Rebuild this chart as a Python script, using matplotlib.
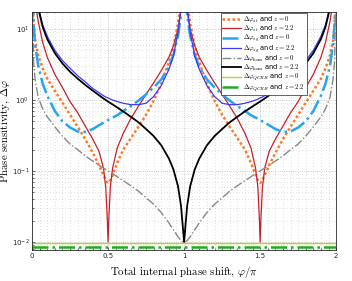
import matplotlib
matplotlib.use('Agg')
import matplotlib.pyplot as plt
import matplotlib.ticker as mticker
import numpy as np

plt.rcParams['mathtext.fontset'] = 'cm'

# phase grid (in units of pi)
phi = [0, 0.01, 0.02, 0.04, 0.07, 0.1, 0.15, 0.2, 0.25, 0.3, 0.35, 0.4, 0.44, 0.47, 0.485, 0.495,
       0.5, 0.505, 0.515, 0.53, 0.56, 0.6, 0.65, 0.7, 0.75, 0.8, 0.85, 0.9, 0.93, 0.96, 0.98, 0.99,
       1.0, 1.01, 1.02, 1.04, 1.07, 1.1, 1.15, 1.2, 1.25, 1.3, 1.35, 1.4, 1.44, 1.47, 1.485, 1.495,
       1.5, 1.505, 1.515, 1.53, 1.56, 1.6, 1.65, 1.7, 1.75, 1.8, 1.85, 1.9, 1.93, 1.96, 1.98, 1.99, 2.0]

st_z0 = [100, 12, 7, 4.3, 2.8, 2.0, 1.35, 0.92, 0.62, 0.42, 0.28, 0.18, 0.12, 0.088, 0.074, 0.069,
         0.068, 0.069, 0.074, 0.088, 0.13, 0.2, 0.29, 0.42, 0.62, 0.98, 1.7, 3.4, 5.6, 12, 25, 50,
         100, 50, 25, 12, 5.6, 3.4, 1.7, 0.98, 0.62, 0.42, 0.29, 0.2, 0.13, 0.088, 0.074, 0.069,
         0.068, 0.069, 0.074, 0.088, 0.12, 0.18, 0.28, 0.42, 0.62, 0.92, 1.35, 2.0, 2.8, 4.3, 7, 12, 100]

st_z22 = [100, 60, 25, 13, 6.5, 4.0, 2.3, 1.5, 0.95, 0.66, 0.43, 0.28, 0.19, 0.11, 0.058, 0.021,
          0.01, 0.021, 0.06, 0.11, 0.21, 0.34, 0.55, 0.82, 1.2, 1.75, 2.6, 4.0, 5.8, 10, 20, 40,
          100, 40, 20, 10, 5.8, 4.0, 2.6, 1.75, 1.2, 0.82, 0.55, 0.34, 0.21, 0.11, 0.06, 0.021,
          0.01, 0.021, 0.058, 0.11, 0.19, 0.28, 0.43, 0.66, 0.95, 1.5, 2.3, 4.0, 6.5, 13, 25, 60, 100]

sg_z0 = [100, 12, 6.2, 3.1, 1.7, 1.15, 0.70, 0.5, 0.41, 0.36, 0.355, 0.39, 0.44, 0.48, 0.5, 0.515,
         0.52, 0.53, 0.545, 0.565, 0.61, 0.7, 0.82, 0.98, 1.2, 1.5, 1.95, 2.9, 4.3, 8, 16, 32,
         100, 32, 16, 8, 4.3, 2.9, 1.95, 1.5, 1.2, 0.98, 0.82, 0.7, 0.61, 0.565, 0.545, 0.53,
         0.52, 0.515, 0.5, 0.48, 0.44, 0.39, 0.355, 0.36, 0.41, 0.5, 0.70, 1.15, 1.7, 3.1, 6.2, 12, 100]

sg_z22 = [100, 80, 40, 21, 11.5, 7.9, 5.0, 3.6, 2.8, 2.2, 1.8, 1.45, 1.27, 1.15, 1.1, 1.08,
          1.07, 1.06, 1.03, 1.0, 0.95, 0.9, 0.86, 0.86, 0.9, 1.12, 1.6, 2.7, 4.2, 9, 19, 40,
          100, 40, 19, 9, 4.2, 2.7, 1.6, 1.12, 0.9, 0.86, 0.86, 0.9, 0.95, 1.0, 1.03, 1.06,
          1.07, 1.08, 1.1, 1.15, 1.27, 1.45, 1.8, 2.2, 2.8, 3.6, 5.0, 7.9, 11.5, 21, 40, 80, 100]

hom_z0 = [100, 3.5, 2.0, 1.1, 0.75, 0.58, 0.42, 0.31, 0.24, 0.20, 0.163, 0.138, 0.121, 0.11, 0.105, 0.102,
          0.1, 0.099, 0.096, 0.092, 0.083, 0.073, 0.062, 0.052, 0.042, 0.034, 0.026, 0.0186, 0.0149, 0.0118, 0.0105, 0.0101,
          0.01, 0.0101, 0.0105, 0.0118, 0.0149, 0.0186, 0.026, 0.034, 0.042, 0.052, 0.062, 0.073, 0.083, 0.092, 0.096, 0.099,
          0.1, 0.102, 0.105, 0.11, 0.121, 0.138, 0.163, 0.20, 0.24, 0.31, 0.42, 0.58, 0.75, 1.1, 2.0, 3.5, 100]

hom_z22 = [100, 70, 42, 19.9, 10.7, 7.2, 4.57, 3.27, 2.5, 2.0, 1.63, 1.35, 1.17, 1.05, 1.0, 0.967,
           0.95, 0.935, 0.906, 0.865, 0.786, 0.69, 0.58, 0.485, 0.39, 0.31, 0.23, 0.15, 0.105, 0.061, 0.032, 0.018,
           0.01, 0.018, 0.032, 0.061, 0.105, 0.15, 0.23, 0.31, 0.39, 0.485, 0.58, 0.69, 0.786, 0.865, 0.906, 0.935,
           0.95, 0.967, 1.0, 1.05, 1.17, 1.35, 1.63, 2.0, 2.5, 3.27, 4.57, 7.2, 10.7, 19.9, 42, 70, 100]

qcrb_z0 = 0.0098
qcrb_z22 = 0.0085
phi_range = [0, 2]

labels = [r'$\Delta\varphi_{st}$ and $z=0$', r'$\Delta\varphi_{st}$ and $z=2.2$',
          r'$\Delta\varphi_{sg}$ and $z=0$', r'$\Delta\varphi_{sg}$ and $z=2.2$',
          r'$\Delta\varphi_{\rm hom}$ and $z=0$', r'$\Delta\varphi_{\rm hom}$ and $z=2.2$',
          r'$\Delta\varphi_{QCRB}$ and $z=0$', r'$\Delta\varphi_{QCRB}$ and $z=2.2$']

fig = plt.figure(figsize=(3.52, 2.81), dpi=100)
ax = fig.add_axes([0.091, 0.110, 0.864, 0.847])

ax.plot(phi, st_z0, color='#ff7722', linestyle=(0, (1.0, 1.0)), linewidth=1.8, label=labels[0])
ax.plot(phi, st_z22, color='#c8202a', linestyle='-', linewidth=0.9, label=labels[1])
ax.plot(phi, sg_z0, color='#25a5f0', linestyle='-.', linewidth=1.8, label=labels[2])
ax.plot(phi, sg_z22, color='#3a3aff', linestyle='-', linewidth=0.9, label=labels[3])
ax.plot(phi, hom_z0, color='#888888', linestyle='-.', linewidth=1.0, label=labels[4])
ax.plot(phi, hom_z22, color='black', linestyle='-', linewidth=1.3, label=labels[5])
ax.plot(phi_range, [qcrb_z0, qcrb_z0], color='#b8d038', linestyle='-', linewidth=1.0, label=labels[6])
ax.plot(phi_range, [qcrb_z22, qcrb_z22], color='#22aa22', linestyle='-.', linewidth=1.8, label=labels[7])

ax.set_yscale('log')
ax.set_xlim(0, 2)
ax.set_ylim(0.0077, 17.3)

ax.set_xticks([0, 0.5, 1, 1.5, 2])
ax.set_xticklabels(['0', '0.5', '1', '1.5', '2'])
ax.xaxis.set_minor_locator(mticker.MultipleLocator(0.05))
ax.yaxis.set_minor_formatter(mticker.NullFormatter())
ax.tick_params(which='both', direction='in', labelsize=5, colors='#262626', length=2.5, width=0.5, pad=2)
ax.tick_params(which='minor', length=1.5)

ax.grid(True, which='major', color='#bbbbbb', linestyle=':', linewidth=0.6)
ax.grid(True, which='minor', color='#bbbbbb', linestyle=(0, (0.6, 3)), linewidth=0.6)

for s in ax.spines.values():
    s.set_color('#262626')
    s.set_linewidth(0.6)

ax.set_xlabel(r'Total internal phase shift, $\varphi/\pi$', fontsize=7.8, family='cmr10')
ax.set_ylabel(r'Phase sensitivity, $\Delta\varphi$', fontsize=7.8, family='cmr10')
ax.xaxis.set_label_coords(0.5, -0.06)
ax.yaxis.set_label_coords(-0.066, 0.5)

leg = ax.legend(loc='upper right', bbox_to_anchor=(0.905, 1.0), borderaxespad=0.1, fontsize=4.8,
                fancybox=False, framealpha=1, edgecolor='#262626', handlelength=2.8,
                labelspacing=-0.15, borderpad=0.25, handletextpad=0.3)
leg.get_frame().set_linewidth(0.5)

plt.savefig('out.png', dpi=100)
